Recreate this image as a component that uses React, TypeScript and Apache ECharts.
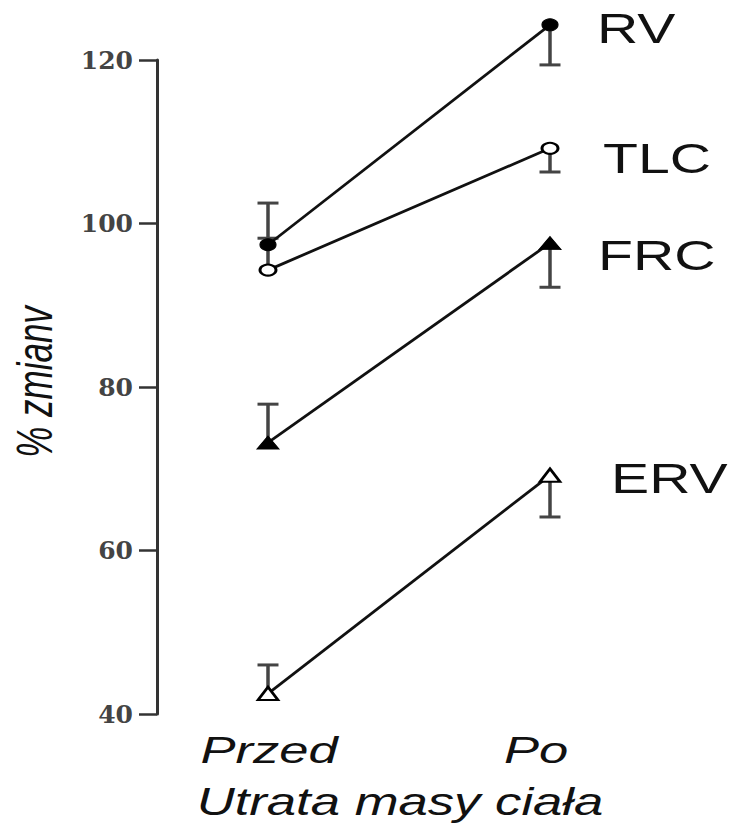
import React, { useEffect, useRef } from "react";
import * as echarts from "echarts";

const categories = ["Przed", "Po"];
const seriesNames = ["RV", "TLC", "FRC", "ERV"];
const rvValues = [97.4, 124.3];
const tlcValues = [94.3, 109.2];
const frcValues = [73.2, 97.6];
const ervValues = [42.5, 69.2];
// error bars: [categoryIndex, from, to]
const errorBars = [
  [0, 97.4, 102.5],
  [0, 94.3, 98.2],
  [0, 73.2, 77.9],
  [0, 42.5, 46.0],
  [1, 124.3, 119.4],
  [1, 109.2, 106.3],
  [1, 97.6, 92.2],
  [1, 69.2, 64.1],
];
const yTicks = [40, 60, 80, 100, 120];
const xTitle = "Utrata masy ciała";
const yTitle = "% zmianv";

export default function App() {
  const ref = useRef<HTMLDivElement>(null);
  useEffect(() => {
    if (!ref.current) return;
    const chart = echarts.init(ref.current, null, { renderer: "svg" });
    const mk = (name: string, vals: number[], symbol: string, size: number[], filled: boolean) => ({
      type: "line",
      name,
      data: vals.map((v, i) => [i, v]),
      symbol,
      symbolSize: size,
      showAllSymbol: true,
      clip: false,
      z: 3,
      lineStyle: { color: "#111", width: 2.8 },
      itemStyle: filled
        ? { color: "#000", borderColor: "#000", borderWidth: 1 }
        : { color: "#fff", borderColor: "#000", borderWidth: 2.5 },
    });
    const labelFont = "'Liberation Sans', Arial, sans-serif";
    const bigLabel = (text: string, x: number, y: number) => ({
      type: "text",
      x,
      y,
      scaleX: 1.33,
      style: {
        text,
        fontSize: 43,
        fontFamily: labelFont,
        fill: "#111",
        textAlign: "left",
        textVerticalAlign: "middle",
      },
    });
    const catLabel = (text: string, x: number, y: number) => ({
      type: "text",
      x,
      y,
      scaleX: 1.42,
      style: {
        text,
        fontSize: 37,
        fontStyle: "italic",
        fontFamily: labelFont,
        fill: "#111",
        textAlign: "center",
        textVerticalAlign: "middle",
      },
    });
    chart.setOption({
      animation: false,
      grid: { left: 157, right: 53, top: 60, bottom: 113 },
      xAxis: {
        type: "value",
        min: -0.3936,
        max: 1.5,
        show: false,
      },
      yAxis: {
        type: "value",
        min: yTicks[0],
        max: yTicks[yTicks.length - 1],
        interval: 20,
        splitLine: { show: false },
        axisLine: { show: true, onZero: false, lineStyle: { color: "#333", width: 3 } },
        axisTick: { show: true, length: 18, lineStyle: { color: "#333", width: 2.5 } },
        axisLabel: {
          margin: 24,
          fontSize: 25,
          fontWeight: "bold",
          fontFamily: "'DejaVu Serif', serif",
          color: "#444",
        },
      },
      series: [
        {
          type: "custom",
          z: 2,
          clip: false,
          data: errorBars,
          renderItem: (params: any, api: any) => {
            const p0 = api.coord([api.value(0), api.value(1)]);
            const p1 = api.coord([api.value(0), api.value(2)]);
            const hw = 10.5;
            return {
              type: "group",
              children: [
                {
                  type: "line",
                  shape: { x1: p0[0], y1: p0[1], x2: p1[0], y2: p1[1] },
                  style: { stroke: "#444", lineWidth: 3.5 },
                },
                {
                  type: "line",
                  shape: { x1: p1[0] - hw, y1: p1[1], x2: p1[0] + hw, y2: p1[1] },
                  style: { stroke: "#444", lineWidth: 3 },
                },
              ],
            };
          },
        },
        mk(seriesNames[0], rvValues, "circle", [16, 12], true),
        mk(seriesNames[1], tlcValues, "circle", [16, 11], false),
        mk(seriesNames[2], frcValues, "triangle", [22, 13], true),
        mk(seriesNames[3], ervValues, "triangle", [20, 13], false),
      ],
      graphic: [
        bigLabel(seriesNames[0], 597, 28),
        bigLabel(seriesNames[1], 603, 158),
        bigLabel(seriesNames[2], 598, 255),
        bigLabel(seriesNames[3], 611, 478),
        catLabel(categories[0], 269, 750),
        catLabel(categories[1], 536, 750),
        {
          type: "text",
          x: 400,
          y: 802,
          scaleX: 1.35,
          style: {
            text: xTitle,
            fontSize: 39,
            fontStyle: "italic",
            fontFamily: labelFont,
            fill: "#111",
            textAlign: "center",
            textVerticalAlign: "middle",
          },
        },
        {
          type: "text",
          x: 35,
          y: 382,
          rotation: Math.PI / 2,
          scaleY: 1.45,
          style: {
            text: yTitle,
            fontSize: 35,
            fontStyle: "italic",
            fontFamily: labelFont,
            fill: "#111",
            textAlign: "center",
            textVerticalAlign: "middle",
          },
        },
      ],
    });
    return () => chart.dispose();
  }, []);
  return <div ref={ref} style={{ width: 744, height: 827, position: "absolute", left: 0, top: 0 }} />;
}
